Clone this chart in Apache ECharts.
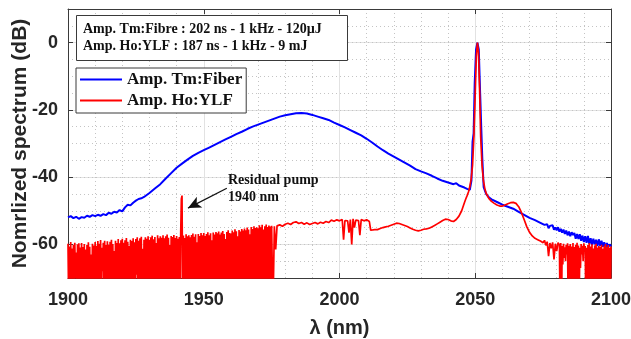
<!DOCTYPE html>
<html><head><meta charset="utf-8">
<script src="https://cdn.jsdelivr.net/npm/echarts@6/dist/echarts.min.js"></script>
<style>html,body{margin:0;padding:0;background:#fff}#c{width:631px;height:339px}</style>
</head><body><div id="c"></div>
<script>
// ---------- axes ----------
const X_MIN = 1900, X_MAX = 2100, X_STEP = 50;
const Y_MIN = -70, Y_MAX = 10;
const yTickValues = [-60, -40, -20, 0];

// ---------- Amp. Tm:Fiber (blue) ----------
const tmLeftStart = 1900, tmLeftStep = 1;
const tmLeftDb = [-52.0,-51.6,-52.2,-51.8,-52.4,-51.9,-52.1,-51.5,-51.8,-51.3,
  -51.6,-51.2,-51.5,-51.0,-51.3,-50.6,-50.9,-50.3,-50.5,-49.8,
  -50.2,-49.0,-48.2,-48.4,-47.6,-47.0,-46.5];
const tmMid = [[1927,-46.3],[1928,-45.9],[1930,-44.7],[1932,-43.4],[1934,-42.1],[1936,-40.4],[1938,-38.8],
  [1940,-37.2],[1942,-36.0],[1944,-34.8],[1946,-33.7],[1948,-32.8],[1950,-32.0],[1952,-31.2],[1954,-30.4],
  [1956,-29.6],[1958,-28.8],[1960,-28.0],[1962,-27.2],[1964,-26.5],[1966,-25.7],[1968,-25.0],[1970,-24.4],
  [1972,-23.8],[1974,-23.2],[1976,-22.6],[1978,-22.0],[1980,-21.6],[1982,-21.3],[1984,-21.0],[1986,-20.9],
  [1988,-21.1],[1990,-21.5],[1992,-22.0],[1994,-22.5],[1996,-23.0],[1998,-23.8],[2000,-24.5],[2002,-25.2],
  [2004,-26.0],[2006,-26.8],[2008,-27.6],[2010,-28.6],[2012,-29.7],[2014,-30.9],[2016,-32.0],[2018,-33.0],
  [2020,-33.9],[2022,-34.8],[2024,-35.7],[2026,-36.6],[2028,-37.6],[2030,-38.3],[2032,-38.9],[2034,-39.6],
  [2036,-40.4],[2038,-41.1],[2040,-41.6],[2042,-42.1],[2043,-41.8],[2044,-42.5],[2046,-43.1],[2047,-43.5],
  [2048,-43.8],[2048.6,-41],[2049,-29.5],[2049.4,-27],[2049.8,-12],[2050.3,-2],[2050.8,0],[2051.3,-2],
  [2051.8,-15],[2052.2,-25],[2052.6,-34.5],[2052.9,-35],[2053.1,-43],[2054,-45],[2055,-46],[2056,-46.6],
  [2058,-47.4],[2060,-48.2],[2062,-48.8],[2064,-49.4],[2066,-50.3],[2068,-51.2],[2070,-52.1],[2072,-52.8],
  [2074,-53.6],[2075.5,-54.2]];
const tmRightStart = 2076, tmRightStep = 0.5;
const tmRightDb = [-54.6,-54.0,-55.2,-54.5,-55.0,-54.3,-55.6,-55.0,-55.8,-54.9,
  -56.2,-55.4,-56.5,-55.6,-56.9,-55.9,-57.3,-56.2,-57.6,-56.4,
  -57.2,-56.6,-58.3,-56.9,-58.4,-57.0,-58.9,-57.4,-59.3,-57.6,
  -59.5,-57.5,-59.8,-58.2,-60.2,-58.3,-60.0,-58.6,-60.5,-58.5,
  -60.4,-58.9,-60.7,-59.4,-61.0,-59.6,-60.8,-60.0,-60.6];

// ---------- Amp. Ho:YLF (red) ----------
// noisy floor 1900-1975 nm, one value every 0.25 nm (rows of 5 nm)
const hoLeftStart = 1900, hoLeftStep = 0.25;
const hoLeftDb = [
  -59.8,-78,-60.6,-83,-59.3,-75,-61.2,-88,-60.1,-79,-59.5,-70,-62.4,-81,-60.0,-77,-59.7,-84,-60.9,-76, // 1900
  -59.6,-82,-60.8,-79,-59.9,-86,-61.5,-74,-60.2,-80,-59.4,-78,-60.7,-85,-63.0,-77,-59.8,-81,-60.3,-75, // 1905
  -59.3,-83,-60.4,-79,-59.0,-87,-59.8,-76,-58.7,-80,-61.0,-68,-59.5,-82,-58.9,-78,-60.2,-85,-59.1,-77, // 1910
  -60.1,-81,-59.2,-75,-58.6,-84,-59.9,-79,-62.0,-77,-58.9,-86,-59.6,-80,-58.4,-78,-59.7,-83,-58.8,-76, // 1915
  -58.3,-82,-59.5,-79,-58.8,-87,-58.1,-76,-59.2,-80,-60.5,-78,-58.6,-85,-59.0,-74,-58.2,-81,-59.4,-77, // 1920
  -58.4,-69,-57.9,-83,-58.9,-78,-58.2,-85,-57.7,-77,-61.3,-80,-58.6,-79,-57.9,-86,-58.3,-75,-57.6,-82, // 1925
  -58.6,-81,-57.9,-79,-57.4,-84,-58.5,-76,-57.8,-80,-59.6,-78,-57.3,-86,-58.2,-75,-57.6,-82,-58.0,-79, // 1930
  -57.3,-83,-58.2,-77,-57.6,-85,-57.1,-79,-58.0,-76,-60.2,-81,-57.5,-78,-57.8,-84,-57.2,-80,-58.1,-75, // 1935
  -57.5,-82,-58.3,-78,-57.8,-85,-57.2,-46.5,-45.5,-80,-57.4,-77,-58.1,-83,-57.0,-79,-57.6,-86,-57.3,-76, // 1940
  -57.9,-80,-57.2,-78,-56.8,-84,-57.7,-77,-57.0,-81,-59.4,-79,-56.9,-86,-57.5,-75,-56.6,-82,-57.3,-78, // 1945
  -56.6,-79,-57.5,-83,-56.9,-77,-56.4,-85,-57.3,-76,-56.7,-80,-58.8,-78,-56.5,-84,-57.1,-81,-56.3,-75, // 1950
  -56.7,-82,-56.2,-78,-57.1,-86,-56.5,-79,-56.0,-77,-56.9,-83,-58.4,-80,-56.3,-76,-55.8,-85,-56.6,-79, // 1955
  -56.8,-78,-55.9,-84,-56.4,-77,-55.5,-81,-56.1,-79,-57.6,-86,-55.7,-75,-56.2,-82,-55.4,-78,-55.9,-80, // 1960
  -55.3,-83,-55.8,-77,-55.0,-85,-55.6,-79,-57.0,-76,-54.8,-81,-55.4,-78,-54.6,-84,-55.1,-80,-54.9,-75, // 1965
  -55.2,-82,-54.3,-79,-54.9,-86,-54.2,-77,-55.6,-80,-54.6,-78,-54.1,-85,-54.8,-76,-54.4,-83,-54.7,-81, // 1970
  -54.5];                                                                                               // 1975
const hoMid = [[1975.5,-80],[1976,-54.6],[1976.5,-61.5],[1977,-54.5],[1978,-54.2],[1979,-54.6],[1980,-54.0],
  [1981,-53.7],[1982,-54.1],[1983,-53.5],[1984,-53.3],[1985,-53.8],[1986,-53.5],[1987,-54.0],[1988,-53.6],
  [1989,-54.1],[1990,-53.8],[1991,-53.5],[1992,-53.9],[1993,-53.4],[1994,-53.7],[1995,-53.2],[1996,-53.5],
  [1997,-52.8],[1998,-53.1],[1999,-52.7],[2000,-53.0],[2001,-52.6],[2001.5,-58.6],[2002,-52.9],[2002.5,-52.5],
  [2003,-53.0],[2003.5,-56.5],[2004,-52.6],[2004.5,-60.0],[2005,-52.4],[2005.5,-55.0],[2006,-52.8],[2006.5,-52.3],
  [2007,-52.9],[2007.5,-57.3],[2008,-52.6],[2009,-53.0],[2010,-52.7],[2011,-53.2],[2011.5,-55.8],[2012,-55.4],
  [2013,-55.6],[2014,-55.6],[2015,-55.3],[2016,-55.0],[2017,-54.8],[2018,-54.6],[2019,-54.3],[2020,-54.0],
  [2021,-53.7],[2022,-53.8],[2023,-54.1],[2024,-54.4],[2025,-54.7],[2026,-55.1],[2027,-55.5],[2028,-55.8],
  [2029,-56.0],[2030,-55.8],[2031,-55.5],[2032,-55.4],[2033,-55.2],[2034,-54.8],[2035,-54.4],[2036,-53.9],
  [2037,-53.4],[2038,-52.9],[2039,-52.5],[2040,-52.6],[2041,-53.0],[2042,-53.2],[2043,-52.6],[2044,-51.6],
  [2045,-50.0],[2045.5,-48.8],[2046,-47.6],[2046.5,-46.5],[2047,-45.5],[2047.5,-44.4],[2048,-42.8],[2048.5,-40.5],
  [2049,-36.5],[2049.5,-28],[2050,-15],[2050.4,-4],[2050.8,0],[2051.2,-3],[2051.6,-14],[2052,-28],
  [2052.5,-36.5],[2053,-41],[2053.5,-43.3],[2054,-44.8],[2055,-46.3],[2056,-47.2],[2057,-47.8],[2058,-48.3],
  [2059,-48.6],[2060,-48.6],[2061,-48.3],[2062,-47.9],[2063,-47.6],[2064,-47.5],[2065,-47.8],[2066,-48.8],
  [2067,-50.5],[2068,-52.6],[2069,-54.8],[2070,-56.4],[2071,-57.5],[2072,-58.2],[2073,-58.6],[2074,-59.0],
  [2075,-59.5],[2075.5,-58.8],[2076,-60.3],[2076.5,-59.2],[2077,-63.5],[2077.5,-59.6],[2078,-61.2],[2078.5,-59.4],
  [2079,-64.5],[2079.5,-59.8],[2080,-62.0],[2080.5,-59.5]];
// noisy floor 2081-2100 nm, one value every 0.25 nm
const hoRightStart = 2081, hoRightStep = 0.25;
const hoRightDb = [
  -60.2,-80,-59.6,-84,-60.5,-66,-59.8,-64,-60.9,-65,-60.1,-63,-59.7,-82,-60.4,-78,-59.9,-85,-60.6,-77, // 2081
  -59.6,-83,-60.8,-76,-60.1,-86,-59.5,-79,-60.3,-81,-61.0,-67,-59.9,-63,-60.4,-65,-59.7,-62,-60.5,-80, // 2086
  -61.0,-84,-60.2,-77,-59.6,-82,-60.6,-79,-60.0,-86,-61.2,-78,-60.3,-83,-59.8,-80,-60.9,-77,-60.5,-85, // 2091
  -60.7,-79,-60.1,-84,-61.3,-76,-60.4,-82,-59.9,-78,-60.8,-85,-60.2,-80,-61.0,-77,                     // 2096
  -60.6];                                                                                               // 2100

// ---------- annotations ----------
const infoLines = ['Amp. Tm:Fibre : 202 ns - 1 kHz - 120µJ', 'Amp. Ho:YLF : 187 ns - 1 kHz - 9 mJ'];
const pumpLabel = 'Residual pump\n1940 nm';
const pumpArrowFrom = [1958.5, -43.3], pumpArrowTo = [1944.2, -49.2];

function seq(start, step, vals) { return vals.map((v, i) => [start + i * step, v]); }
const tmData = seq(tmLeftStart, tmLeftStep, tmLeftDb).concat(tmMid, seq(tmRightStart, tmRightStep, tmRightDb));
const hoLeftData = seq(hoLeftStart, hoLeftStep, hoLeftDb);
const hoRightData = seq(hoRightStart, hoRightStep, hoRightDb);
const hoData = hoLeftData.concat(hoMid, hoRightData);

const SANS = '"Liberation Sans", Arial, Helvetica, sans-serif';
const SERIF = '"Liberation Serif", "Times New Roman", serif';
const TXT = '#262626';
const FRAME = '#3a3a3a';
const RED = '#ff0000', BLUE = '#0000ff';
const HO = 'Amp. Ho:YLF', TM = 'Amp. Tm:Fiber';

const chart = echarts.init(document.getElementById('c'), null, {renderer: 'canvas'});
chart.setOption({
  animation: false,
  backgroundColor: '#fff',
  grid: {left: 68, right: 20, top: 9, bottom: 61, containLabel: false, outerBoundsMode: 'none'},
  xAxis: [{
    type: 'value', min: X_MIN, max: X_MAX, interval: X_STEP, position: 'bottom',
    axisLine: {show: true, onZero: false, lineStyle: {color: FRAME, width: 1}},
    axisTick: {show: true, inside: true, length: 5, lineStyle: {color: FRAME}},
    axisLabel: {color: TXT, fontSize: 18, fontWeight: 'bold', fontFamily: SANS, margin: 13,
      formatter: v => String(v)},
    splitLine: {show: true, lineStyle: {color: '#e2e2e2', width: 1}},
    minorTick: {show: false, splitNumber: 5},
    minorSplitLine: {show: true, lineStyle: {color: '#c4c4c4', width: 1, type: [1, 3]}},
    name: 'λ (nm)', nameLocation: 'middle', nameGap: 40, nameMoveOverlap: false,
    nameTextStyle: {color: TXT, fontSize: 20, fontWeight: 'bold', fontFamily: SANS}
  }, {
    type: 'value', min: X_MIN, max: X_MAX, interval: X_STEP, position: 'top',
    axisLine: {show: true, onZero: false, lineStyle: {color: FRAME, width: 1}},
    axisTick: {show: true, inside: true, length: 5, lineStyle: {color: FRAME}},
    axisLabel: {show: false}, splitLine: {show: false}
  }],
  yAxis: [{
    type: 'value', min: Y_MIN, max: Y_MAX, interval: 10, position: 'left',
    axisLine: {show: true, onZero: false, lineStyle: {color: FRAME, width: 1}},
    axisTick: {show: true, inside: true, length: 5, lineStyle: {color: FRAME}, customValues: yTickValues},
    axisLabel: {color: TXT, fontSize: 18, fontWeight: 'bold', fontFamily: SANS, margin: 10,
      customValues: yTickValues,
      formatter: v => (v % 20 === 0 ? String(v) : '')},
    splitLine: {show: true, lineStyle: {color: '#e2e2e2', width: 1}},
    name: 'Nomrlized spectrum (dB)', nameLocation: 'middle', nameGap: 37, nameRotate: 90,
    nameMoveOverlap: false,
    nameTextStyle: {color: TXT, fontSize: 21, fontWeight: 'bold', fontFamily: SANS}
  }, {
    type: 'value', min: Y_MIN, max: Y_MAX, interval: 10, position: 'right',
    axisLine: {show: true, onZero: false, lineStyle: {color: FRAME, width: 1}},
    axisTick: {show: true, inside: true, length: 5, lineStyle: {color: FRAME}, customValues: yTickValues},
    axisLabel: {show: false}, splitLine: {show: false}
  }, {
    type: 'value', min: Y_MIN, max: Y_MAX, interval: 5, position: 'left',
    axisLine: {show: false}, axisTick: {show: false}, axisLabel: {show: false},
    splitLine: {show: true, lineStyle: {color: '#c4c4c4', width: 1, type: [1, 3]}}
  }],
  legend: {
    left: 76, top: 68, orient: 'vertical', padding: [3, 4, 4, 4], itemGap: 4,
    itemWidth: 42, itemHeight: 2, icon: 'rect',
    backgroundColor: '#fff', borderColor: FRAME, borderWidth: 1,
    textStyle: {color: '#111', fontSize: 17, fontWeight: 'bold', fontFamily: SERIF},
    data: [TM, HO]
  },
  series: [{
    name: TM, type: 'line', xAxisIndex: 0, yAxisIndex: 0, data: tmData,
    symbol: 'none', showSymbol: false, clip: true, z: 3,
    lineStyle: {color: BLUE, width: 2}, itemStyle: {color: BLUE}
  }, {
    name: HO, type: 'line', xAxisIndex: 0, yAxisIndex: 0, data: hoData,
    symbol: 'none', showSymbol: false, clip: true, z: 4,
    lineStyle: {color: RED, width: 1.7}, itemStyle: {color: RED},
    markLine: {
      silent: true, symbol: ['none', 'arrow'], symbolSize: [9, 13], animation: false,
      lineStyle: {color: '#111', width: 1.3, type: 'solid'}, label: {show: false},
      data: [[{coord: pumpArrowFrom}, {coord: pumpArrowTo}]]
    }
  }],
  graphic: [{
    type: 'rect', left: 76, top: 15, z: 100,
    shape: {width: 271, height: 45},
    style: {fill: '#fff', stroke: FRAME, lineWidth: 1}
  }, {
    type: 'text', left: 83, top: 21, z: 101,
    style: {text: infoLines.join('\n'), fill: '#111', font: 'bold 14px ' + SERIF, lineHeight: 17}
  }, {
    type: 'text', left: 228, top: 172, z: 101,
    style: {text: pumpLabel, fill: '#111', font: 'bold 14px ' + SERIF, lineHeight: 17}
  }]
});
</script></body></html>
